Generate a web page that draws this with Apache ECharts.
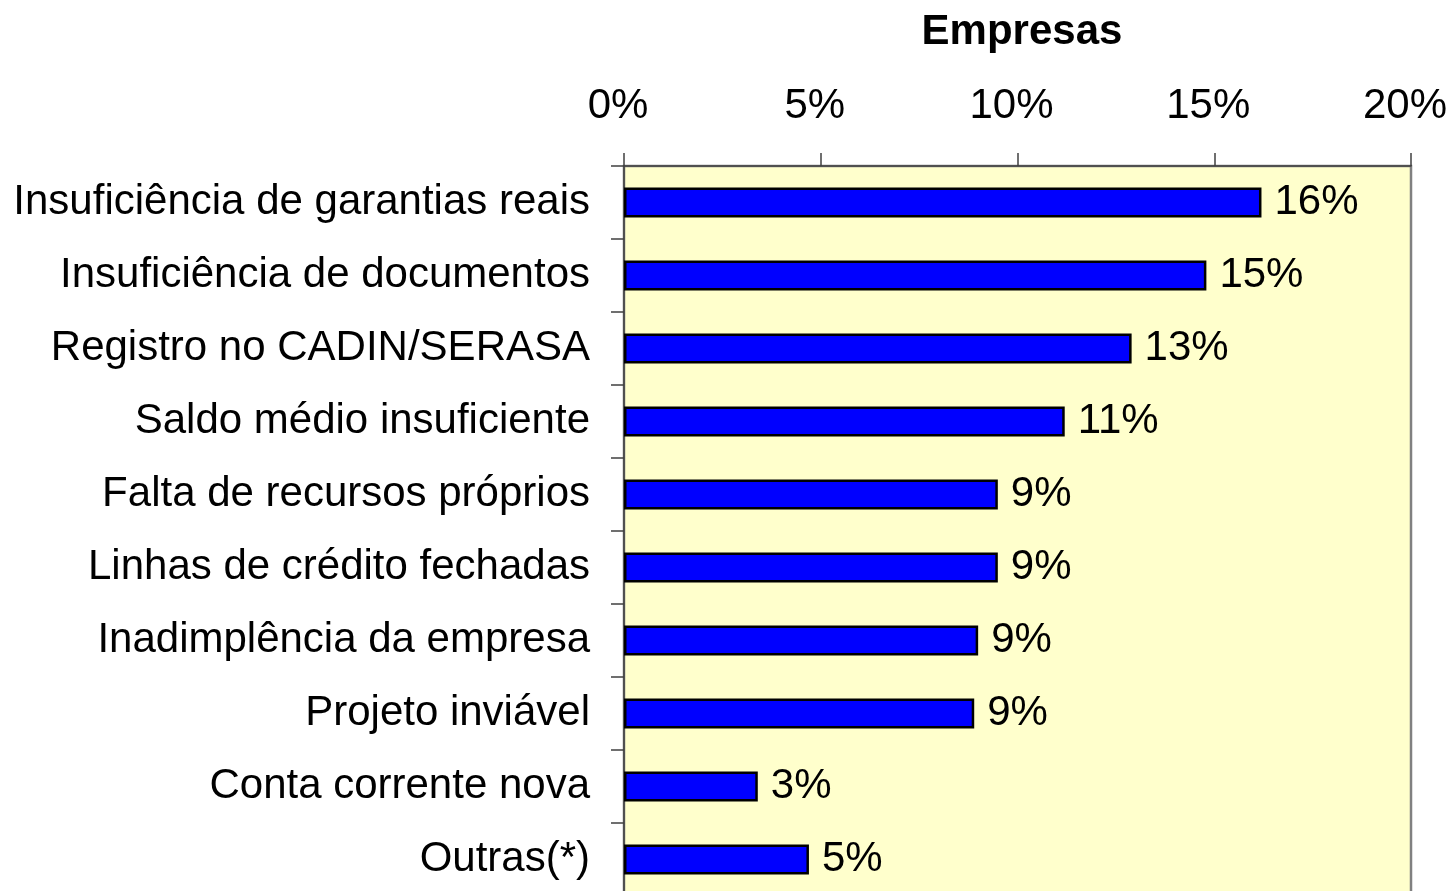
<!DOCTYPE html>
<html>
<head>
<meta charset="utf-8">
<script src="https://cdn.jsdelivr.net/npm/echarts@6/dist/echarts.min.js"></script>
<style>
  html, body { margin: 0; padding: 0; background: #fff; }
  #chart { width: 1454px; height: 891px; }
</style>
</head>
<body>
<div id="chart"></div>
<script>
// motivos de recusa de crédito - % de empresas
var categories = [
    'Insuficiência de garantias reais',
    'Insuficiência de documentos',
    'Registro no CADIN/SERASA',
    'Saldo médio insuficiente',
    'Falta de recursos próprios',
    'Linhas de crédito fechadas',
    'Inadimplência da empresa',
    'Projeto inviável',
    'Conta corrente nova',
    'Outras(*)'
];
var values = [16.2, 14.8, 12.9, 11.2, 9.5, 9.5, 9.0, 8.9, 3.4, 4.7];
var valueLabels = ['16%', '15%', '13%', '11%', '9%', '9%', '9%', '9%', '3%', '5%'];
var xTicks = [0, 5, 10, 15, 20];

var fonte = "'Liberation Sans', Arial, sans-serif";
var myChart = echarts.init(document.getElementById('chart'));

var option = {
    animation: false,
    title: {
        text: 'Empresas',
        left: 1017,
        top: 6,
        textAlign: 'center',
        textStyle: { fontFamily: fonte, fontSize: 42, fontWeight: 'bold', color: '#000' }
    },
    grid: {
        left: 624,
        right: 43,
        top: 166,
        bottom: -5,
        outerBoundsMode: 'none',
        containLabel: false,
        show: true,
        backgroundColor: '#FFFFCC',
        borderColor: '#808080',
        borderWidth: 2.5
    },
    xAxis: {
        type: 'value',
        position: 'top',
        min: xTicks[0],
        max: xTicks[xTicks.length - 1],
        interval: 5,
        axisLine: { show: true, lineStyle: { color: '#404040', width: 1.5 } },
        axisTick: { show: true, inside: false, length: 13, lineStyle: { color: '#404040', width: 1.5 } },
        splitLine: { show: false },
        axisLabel: {
            margin: 39,
            padding: [0, 12, 0, 0],
            formatter: '{value}%',
            fontFamily: fonte,
            fontSize: 42,
            color: '#000'
        }
    },
    yAxis: {
        type: 'category',
        inverse: true,
        data: categories,
        axisLine: { show: true, lineStyle: { color: '#404040', width: 1.5 } },
        axisTick: { show: true, inside: false, length: 13, lineStyle: { color: '#404040', width: 1.5 } },
        axisLabel: {
            margin: 34,
            fontFamily: fonte,
            fontSize: 42,
            color: '#000'
        }
    },
    series: [{
        type: 'bar',
        data: values,
        barWidth: 30,
        itemStyle: { color: '#0000FF', borderColor: '#000', borderWidth: 2.5 },
        label: {
            show: true,
            position: 'right',
            distance: 13,
            fontFamily: fonte,
            fontSize: 42,
            color: '#000',
            formatter: function (p) { return valueLabels[p.dataIndex]; }
        }
    }]
};

myChart.setOption(option);
</script>
</body>
</html>
